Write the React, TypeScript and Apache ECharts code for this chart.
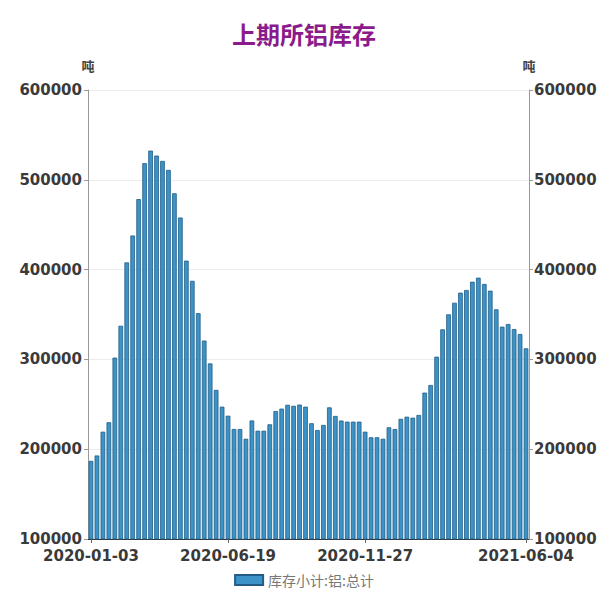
import React, { useEffect, useRef } from "react";
import * as echarts from "echarts";

const categories: string[] = [
  "2020-01-03", "2020-01-10", "2020-01-17", "2020-01-23", "2020-02-07", "2020-02-14",
  "2020-02-21", "2020-02-28", "2020-03-06", "2020-03-13", "2020-03-20", "2020-03-27",
  "2020-04-03", "2020-04-10", "2020-04-17", "2020-04-24", "2020-04-30", "2020-05-08",
  "2020-05-15", "2020-05-22", "2020-05-29", "2020-06-05", "2020-06-12", "2020-06-19",
  "2020-06-24", "2020-07-03", "2020-07-10", "2020-07-17", "2020-07-24", "2020-07-31",
  "2020-08-07", "2020-08-14", "2020-08-21", "2020-08-28", "2020-09-04", "2020-09-11",
  "2020-09-18", "2020-09-25", "2020-09-30", "2020-10-09", "2020-10-16", "2020-10-23",
  "2020-10-30", "2020-11-06", "2020-11-13", "2020-11-20", "2020-11-27", "2020-12-04",
  "2020-12-11", "2020-12-18", "2020-12-25", "2020-12-31", "2021-01-08", "2021-01-15",
  "2021-01-22", "2021-01-29", "2021-02-05", "2021-02-10", "2021-02-19", "2021-02-26",
  "2021-03-05", "2021-03-12", "2021-03-19", "2021-03-26", "2021-04-02", "2021-04-09",
  "2021-04-16", "2021-04-23", "2021-04-30", "2021-05-07", "2021-05-14", "2021-05-21",
  "2021-05-28", "2021-06-04",
];

const stockValues: number[] = [
  187000, 193000, 219500, 230000, 302000, 337500,
  408000, 438000, 478500, 518500, 532500, 527000,
  521000, 511000, 485000, 458000, 410000, 387500,
  351500, 321000, 295500, 266000, 247300, 237300,
  222500, 222500, 211600, 232000, 220600, 220600,
  227700, 242500, 245200, 249500, 248300, 249700,
  247300, 228900, 221400, 227000, 246600, 237000,
  231900, 230700, 230700, 230700, 219500, 213300,
  213300, 211600, 224400, 222500, 233800, 236200,
  235100, 238100, 263000, 271500, 303000, 333500,
  350200, 363100, 374300, 377300, 386500, 391000,
  384000, 376500, 355800, 336400, 339400, 333800,
  328300, 312300,
];

const labelIndices: number[] = [0, 23, 46, 73];

const titleText = "上期所铝库存";
const seriesName = "库存小计:铝:总计";
const unitName = "吨";

export default function App() {
  const ref = useRef<HTMLDivElement>(null);

  useEffect(() => {
    document.body.style.margin = "0";
    if (!ref.current) return;
    const chart = echarts.init(ref.current, null, { renderer: "svg" });
    const showIdx = (i: number) => labelIndices.indexOf(i) >= 0;
    const yLabel = {
      fontSize: 15,
      lineHeight: 14,
      fontWeight: "bold" as const,
      color: "#3a3a3a",
      fontFamily: "DejaVu Sans",
      formatter: (v: number) => String(v),
    };
    const yAxisBase = {
      type: "value" as const,
      min: 100000,
      max: 600000,
      interval: 100000,
      name: unitName,
      nameLocation: "end" as const,
      nameGap: 18,
      nameTextStyle: {
        fontSize: 13,
        fontWeight: "bold" as const,
        color: "#444",
        fontFamily: "Noto Sans CJK SC",
        align: "center" as const,
      },
      axisLine: { show: true, lineStyle: { color: "#999", width: 1 } },
      axisTick: { show: true, length: 4, lineStyle: { color: "#999" } },
    };
    chart.setOption({
      animation: false,
      backgroundColor: "#ffffff",
      title: {
        text: titleText,
        left: "center",
        top: 16,
        textStyle: {
          fontSize: 24,
          fontWeight: "bold",
          color: "#8b1a8b",
          fontFamily: "Noto Sans CJK SC",
        },
      },
      legend: {
        bottom: -2,
        left: "center",
        itemWidth: 28,
        itemHeight: 10,
        itemGap: 8,
        icon: "rect",
        textStyle: {
          fontSize: 14,
          color: "#777",
          fontFamily: "Noto Sans CJK SC",
        },
        data: [seriesName],
      },
      grid: { left: 88, right: 79, top: 90, bottom: 51, containLabel: false },
      xAxis: {
        type: "category",
        data: categories,
        boundaryGap: true,
        axisLine: { show: true, lineStyle: { color: "#333", width: 1 } },
        axisTick: {
          show: true,
          alignWithLabel: true,
          length: 4,
          interval: (i: number) => showIdx(i),
          lineStyle: { color: "#666" },
        },
        axisLabel: {
          interval: (i: number) => showIdx(i),
          fontSize: 15,
          lineHeight: 15,
          fontWeight: "bold",
          color: "#3a3a3a",
          fontFamily: "DejaVu Sans",
          margin: 9,
          hideOverlap: false,
        },
        splitLine: { show: false },
      },
      yAxis: [
        {
          ...yAxisBase,
          position: "left",
          axisLabel: { ...yLabel, margin: 6 },
          splitLine: { show: true, lineStyle: { color: "#ececec", width: 1 } },
        },
        {
          ...yAxisBase,
          position: "right",
          axisLabel: { ...yLabel, margin: 5 },
          splitLine: { show: false },
        },
      ],
      series: [
        {
          name: seriesName,
          type: "bar",
          data: stockValues,
          barCategoryGap: "22%",
          itemStyle: {
            color: "#3b93c8",
            borderColor: "#215d86",
            borderWidth: 0.8,
          },
        },
      ],
    });
    return () => chart.dispose();
  }, []);

  return <div ref={ref} style={{ width: 608, height: 590 }} />;
}
